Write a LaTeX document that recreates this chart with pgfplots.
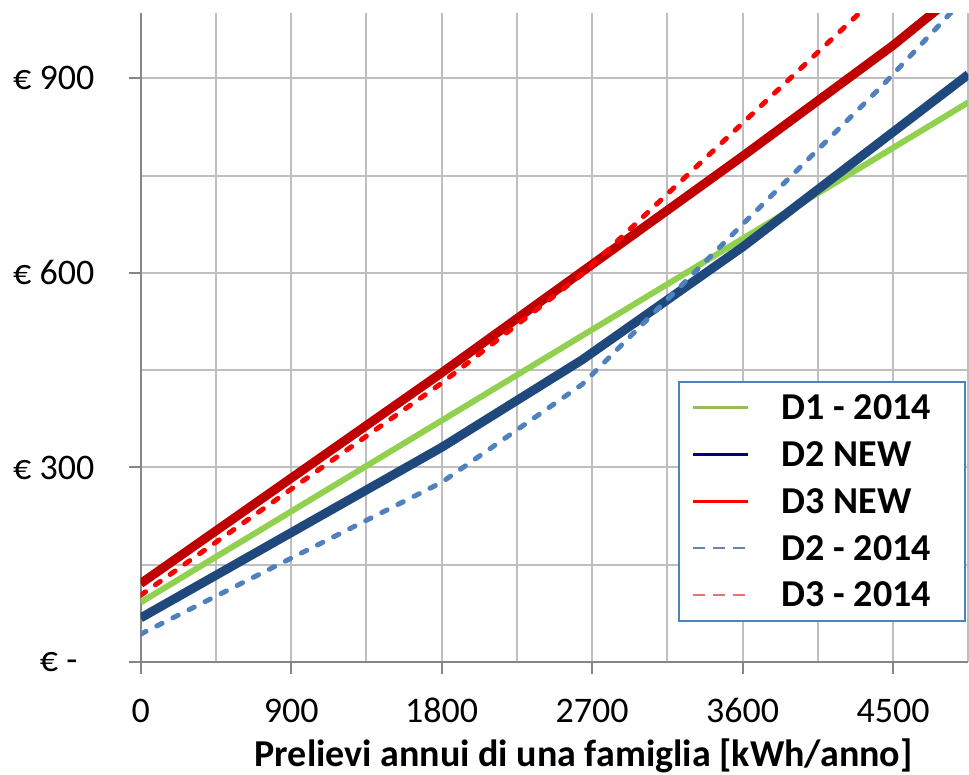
\documentclass[border=0pt]{standalone}
\usepackage{pgfplots}
\pgfplotsset{compat=1.18}
\usepackage{fontspec}
\setmainfont{Carlito}
\definecolor{cgreen}{HTML}{92D050}
\definecolor{cnavy}{HTML}{1F497D}
\definecolor{cdred}{HTML}{C00000}
\definecolor{cblue}{HTML}{4F81BD}
\definecolor{cred}{HTML}{FF0000}
\definecolor{gridc}{HTML}{BFBFBF}
\definecolor{axisc}{HTML}{868686}
\definecolor{legolive}{HTML}{9BBB59}
\definecolor{legnavy}{HTML}{000080}
\definecolor{legblue}{HTML}{6A85B0}
\definecolor{legpink}{HTML}{E57373}
\definecolor{legborder}{HTML}{4F81BD}
\begin{document}
\begin{tikzpicture}
\begin{axis}[
  at={(0,0)}, anchor=south west,
  scale only axis, width=413.85pt, height=324.25pt,
  xmin=0, xmax=4950, ymin=0, ymax=1000,
  axis x line*=bottom, axis y line*=left,
  axis line style={axisc, line width=1pt},
  xtick={0,900,1800,2700,3600,4500},
  xticklabels={0,900,1800,2700,3600,4500},
  minor xtick={450,1350,2250,3150,4050,4950},
  ytick={0,300,600,900},
  yticklabels={{€ -\rule{8.5pt}{0pt}},{€ 300},{€ 600},{€ 900}},
  minor ytick={150,450,750},
  grid=both,
  major grid style={gridc, line width=1pt},
  minor grid style={gridc, line width=1pt},
  tick align=outside,
  major tick length=6pt, minor tick length=0pt,
  tick style={axisc, line width=1pt},
  xticklabel style={font=\fontsize{18}{20}\selectfont, anchor=base, inner sep=0pt, yshift=-24pt},
  yticklabel style={font=\fontsize{18}{20}\selectfont, anchor=east, inner sep=0pt, xshift=-17pt},
  xlabel={Prelievi annui di una famiglia [kWh/anno]},
  xlabel style={font=\fontsize{19}{22}\selectfont\bfseries, at={(axis description cs:0.535,-0.161)}, anchor=base, inner sep=0pt},
  legend image code/.code={\draw[#1] (0pt,0pt) -- (27.5pt,0pt);},
  legend style={at={(axis description cs:0.9971,0.0617)}, anchor=south east,
    draw=legborder, line width=1pt, fill=white,
    font=\fontsize{19}{22}\selectfont\bfseries,
    inner xsep=6.5pt, inner ysep=7pt, row sep=11.4pt, column sep=16pt,
    nodes={inner sep=0pt, text height=12pt, text depth=0pt},
    cells={anchor=west}},
]
\addplot[cgreen, line width=3pt, forget plot] coordinates {(0,92) (4950,863)};
\addplot[cnavy, line width=4.5pt, forget plot] coordinates {(0,68) (1800,331) (2640,466) (3600,640) (4950,906)};
\addplot[cdred, line width=4.5pt, forget plot] coordinates {(0,121) (1800,446) (2640,602) (3600,780) (4500,951) (4950,1045)};
\addplot[cblue, line width=2.5pt, line cap=round, dash pattern=on 3pt off 6pt, forget plot] coordinates {(0,43) (1800,277) (2640,428) (3600,675) (4440,890) (4950,1030)};
\addplot[cred, line width=2.5pt, line cap=round, dash pattern=on 3pt off 6pt, forget plot] coordinates {(0,103) (1800,430) (2640,598) (3600,831) (4440,1035)};
\addlegendimage{legolive, line width=1.4pt}
\addlegendentry{D1 - 2014\rule{10.5pt}{0pt}}
\addlegendimage{legnavy, line width=1.6pt}
\addlegendentry{D2 NEW}
\addlegendimage{cred, line width=1.6pt}
\addlegendentry{D3 NEW}
\addlegendimage{legblue, line width=1pt, dash pattern=on 6pt off 4pt}
\addlegendentry{D2 - 2014}
\addlegendimage{legpink, line width=1pt, dash pattern=on 6pt off 4pt}
\addlegendentry{D3 - 2014}
\end{axis}
\pgfresetboundingbox
\path[use as bounding box] (-70.35pt,-56.5pt) rectangle (414.15pt,331pt);
\end{tikzpicture}
\end{document}
